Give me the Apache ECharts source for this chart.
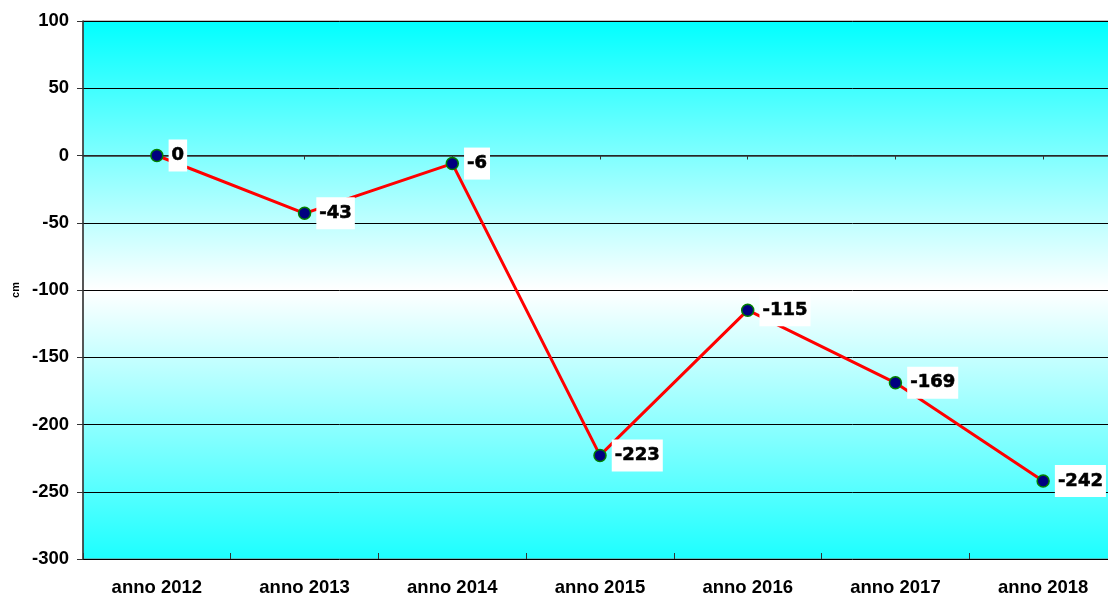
<!DOCTYPE html>
<html>
<head>
<meta charset="utf-8">
<script src="https://cdn.jsdelivr.net/npm/echarts@6/dist/echarts.min.js"></script>
<style>html,body{margin:0;padding:0;background:#fff;}#c{width:1108px;height:599px;}</style>
</head>
<body>
<div id="c"></div>
<script>
var categories = ['anno 2012','anno 2013','anno 2014','anno 2015','anno 2016','anno 2017','anno 2018'];
var values = [0, -43, -6, -223, -115, -169, -242];
var yMin = -300, yMax = 100, yStep = 50;
var yName = 'cm';

var chart = echarts.init(document.getElementById('c'));
chart.setOption({
  animation: false,
  grid: {
    left: 83, width: 1034, top: 21, bottom: 40,
    containLabel: false,
    outerBoundsMode: 'none',
    show: true,
    borderColor: '#808080', borderWidth: 1,
    backgroundColor: new echarts.graphic.LinearGradient(0, 0, 0, 1, [
      {offset: 0, color: '#00FFFF'},
      {offset: 0.5, color: '#FFFFFF'},
      {offset: 1, color: '#1CFFFF'}
    ])
  },
  xAxis: [{
    type: 'category',
    data: categories,
    boundaryGap: true,
    axisLine: {lineStyle: {color: '#333', width: 1.5}},
    axisTick: {show: true, alignWithLabel: true, length: 4, lineStyle: {color: '#333'}},
    axisLabel: {color: '#000', fontWeight: 'bold', fontSize: 18.5, fontFamily: 'Liberation Sans, Arial', margin: 19}
  }, {
    type: 'category',
    data: categories,
    boundaryGap: true,
    position: 'bottom',
    axisLine: {show: false},
    axisTick: {show: true, inside: true, length: 6, lineStyle: {color: '#333'}},
    axisLabel: {show: false}
  }],
  yAxis: {
    type: 'value',
    min: yMin, max: yMax, interval: yStep,
    name: yName,
    nameLocation: 'middle',
    nameGap: 62,
    nameTextStyle: {color: '#000', fontWeight: 'bold', fontSize: 11, fontFamily: 'Liberation Sans, Arial'},
    axisLine: {show: true, lineStyle: {color: '#333', width: 1.5}},
    axisTick: {show: true, length: 6, lineStyle: {color: '#333'}},
    axisLabel: {color: '#000', fontWeight: 'bold', fontSize: 18.5, fontFamily: 'Liberation Sans, Arial', margin: 14},
    splitLine: {show: true, lineStyle: {color: '#000', width: 1}}
  },
  series: [{
    type: 'line',
    data: values,
    lineStyle: {color: '#FF0000', width: 3},
    symbol: 'circle',
    symbolSize: 12,
    itemStyle: {color: '#000080', borderColor: '#008000', borderWidth: 1.5},
    label: {
      show: true,
      position: 'right',
      distance: 5,
      color: '#000',
      fontWeight: 'bold',
      fontSize: 18,
      fontFamily: 'DejaVu Sans, Verdana',
      textBorderColor: '#000',
      textBorderWidth: 0.6,
      backgroundColor: '#FFFFFF',
      padding: [7, 3, 7, 3]
    },
    z: 5
  }]
});
</script>
</body>
</html>
